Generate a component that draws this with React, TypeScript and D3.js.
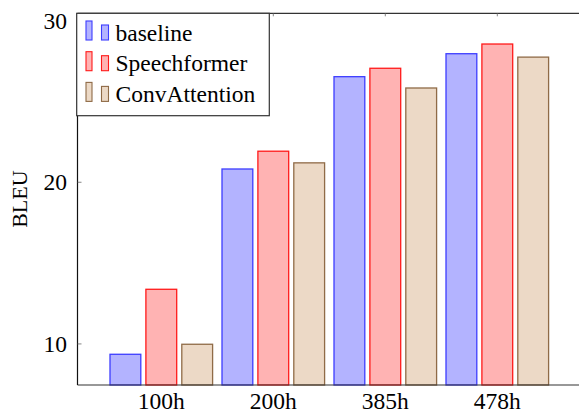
import React from 'react';
import * as d3 from 'd3';

const categories = ['100h', '200h', '385h', '478h'];
const seriesNames = ['baseline', 'Speechformer', 'ConvAttention'];
const baseline = [9.36, 20.82, 26.53, 27.95];
const speechformer = [13.38, 21.92, 27.05, 28.55];
const convAttention = [9.98, 21.2, 25.83, 27.74];
const yTicks = [10, 20, 30];

const fills = ['#b3b3ff', '#ffb3b3', '#ecd9c6'];
const strokes = ['#3d3dff', '#ff1a1a', '#8f6b47'];

const W = 579;
const H = 412;
const left = 77.5;
const top = 13.3;
const bottom = 385;
const font = "'Liberation Serif', 'Times New Roman', Times, 'DejaVu Serif', serif";

export default function App() {
  const values = [baseline, speechformer, convAttention];
  const y = d3.scaleLinear().domain([7.46, 30.45]).range([bottom, top]);
  const x = d3.scalePoint<string>().domain(categories).range([161.3, 497.3]);
  const xs = d3.scaleBand<string>().domain(seriesNames).range([-51.3, 51.3]).paddingInner(0.142);
  const bw = xs.bandwidth();
  const ts = { fontFamily: font };

  return (
    <svg width={W} height={H} style={{ position: 'absolute', left: 0, top: 0, background: '#fff' }}>
      {/* bars */}
      {seriesNames.map((s, si) =>
        categories.map((c, ci) => (
          <rect key={s + c}
            x={(x(c) as number) + (xs(s) as number)}
            y={y(values[si][ci])}
            width={bw}
            height={bottom - y(values[si][ci])}
            fill={fills[si]} stroke={strokes[si]} strokeWidth={1.3} />
        ))
      )}
      {/* axes */}
      <line x1={left} x2={W} y1={bottom} y2={bottom} stroke="#333" strokeWidth={1.2} />
      <line x1={left} x2={W} y1={top} y2={top} stroke="#333" strokeWidth={1.2} />
      <line x1={left} x2={left} y1={top} y2={bottom} stroke="#111" strokeWidth={1.2} />
      {yTicks.map(t => (
        <g key={t}>
          <line x1={left} x2={left + 4} y1={y(t)} y2={y(t)} stroke="#666" strokeWidth={0.8} />
          <text x={67} y={y(t)} dy="0.35em" textAnchor="end" fontSize={23.5} style={ts}>{t}</text>
        </g>
      ))}
      {categories.map(c => (
        <g key={c}>
          <line x1={x(c)} x2={x(c)} y1={top} y2={top + 3} stroke="#666" strokeWidth={0.8} />
          <text x={x(c)} y={408.5} textAnchor="middle" fontSize={23.5} style={ts}>{c}</text>
        </g>
      ))}
      <text transform={`translate(27,${(top + bottom) / 2}) rotate(-90)`} textAnchor="middle"
        fontSize={22} style={ts}>BLEU</text>
      {/* legend */}
      <rect x={76.7} y={top} width={192.6} height={102.4} fill="#fff" stroke="#333" strokeWidth={1.2} />
      {seriesNames.map((s, i) => {
        const cy = 40 + i * 30.7;
        return (
          <g key={s}>
            <rect x={86} y={cy - 19} width={6} height={19} fill={fills[i]} stroke={strokes[i]} strokeWidth={1.1} />
            <rect x={101.5} y={cy - 15} width={7} height={15} fill={fills[i]} stroke={strokes[i]} strokeWidth={1.1} />
            <text x={115.5} y={cy + 0.5} fontSize={23.5} style={ts}>{s}</text>
          </g>
        );
      })}
    </svg>
  );
}
